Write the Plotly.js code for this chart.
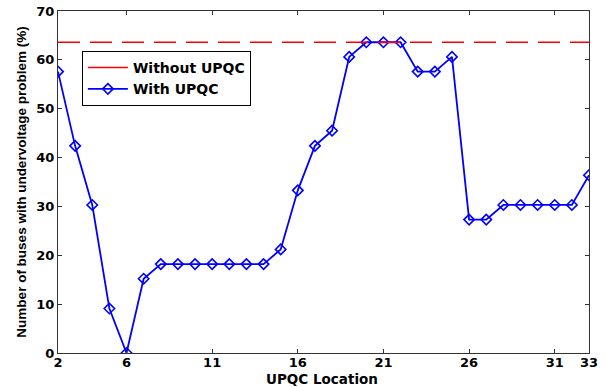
<!DOCTYPE html>
<html><head><meta charset="utf-8">
<script src="https://cdn.plot.ly/plotly-3.0.1.min.js"></script>
<style>body{margin:0;background:#fff}#c{width:606px;height:387px}</style>
</head><body><div id="c"></div>
<script>
const locations = [2,3,4,5,6,7,8,9,10,11,12,13,14,15,16,17,18,19,20,21,22,23,24,25,26,27,28,29,30,31,32,33];
const withUPQC = [57.6,42.4,30.3,9.1,0,15.2,18.2,18.2,18.2,18.2,18.2,18.2,18.2,21.2,33.3,42.4,45.5,60.6,63.6,63.6,63.6,57.6,57.6,60.6,27.3,27.3,30.3,30.3,30.3,30.3,30.3,36.4];
const withoutUPQC = 63.6;
const xTicks = [2,6,11,16,21,26,31,33];
const yTicks = [0,10,20,30,40,50,60,70];

const F = 'DejaVu Sans, sans-serif';
const FL = 'Liberation Sans, Arial, sans-serif';
const traces = [
  {x:[null], y:[null], mode:'lines', name:'Without UPQC', line:{color:'#ff0000', width:1.5}},
  {x:locations, y:withUPQC, mode:'lines+markers', name:'With UPQC',
   line:{color:'#0000ff', width:1.8}, marker:{symbol:'diamond-open', size:8, color:'#0000ff', line:{width:1.6}}},
  {x:[locations[0], locations[locations.length-1]], y:[withoutUPQC, withoutUPQC], mode:'lines', showlegend:false,
   line:{color:'#ff0000', width:1.6, dash:'22px,10px'}}
];
const ax = {showgrid:false, zeroline:false, showline:true, mirror:'ticks', linecolor:'#333', linewidth:1,
  ticks:'inside', ticklen:4, tickcolor:'#333', tickfont:{family:F, size:13, color:'#000', weight:'bold'}};
const layout = {
  width:606, height:387, margin:{l:58, r:17, t:11, b:34},
  paper_bgcolor:'#fff', plot_bgcolor:'#fff', font:{family:F, weight:'bold'},
  xaxis:Object.assign({}, ax, {range:[2,33], tickvals:xTicks, ticktext:xTicks.map(String), ticklabelstandoff:-3}),
  yaxis:Object.assign({}, ax, {range:[0,70], tickvals:yTicks,
    title:{text:'Number of buses with undervoltage problem (%)', font:{family:FL, size:13.5, weight:'bold', color:'#000'}, standoff:6}}),
  annotations:[{text:'UPQC Location', xref:'paper', yref:'paper', x:0.497, y:-0.0755, xanchor:'center', yanchor:'middle',
    showarrow:false, font:{family:F, size:13.5, weight:'bold', color:'#000'}}],
  legend:{x:0.045, y:0.883, xanchor:'left', yanchor:'top', bgcolor:'#fff', bordercolor:'#000', borderwidth:1,
    font:{family:F, size:14, weight:'bold', color:'#000'}, itemwidth:40, tracegroupgap:0},
  showlegend:true
};
Plotly.newPlot('c', traces, layout, {displayModeBar:false, staticPlot:true});
</script></body></html>
